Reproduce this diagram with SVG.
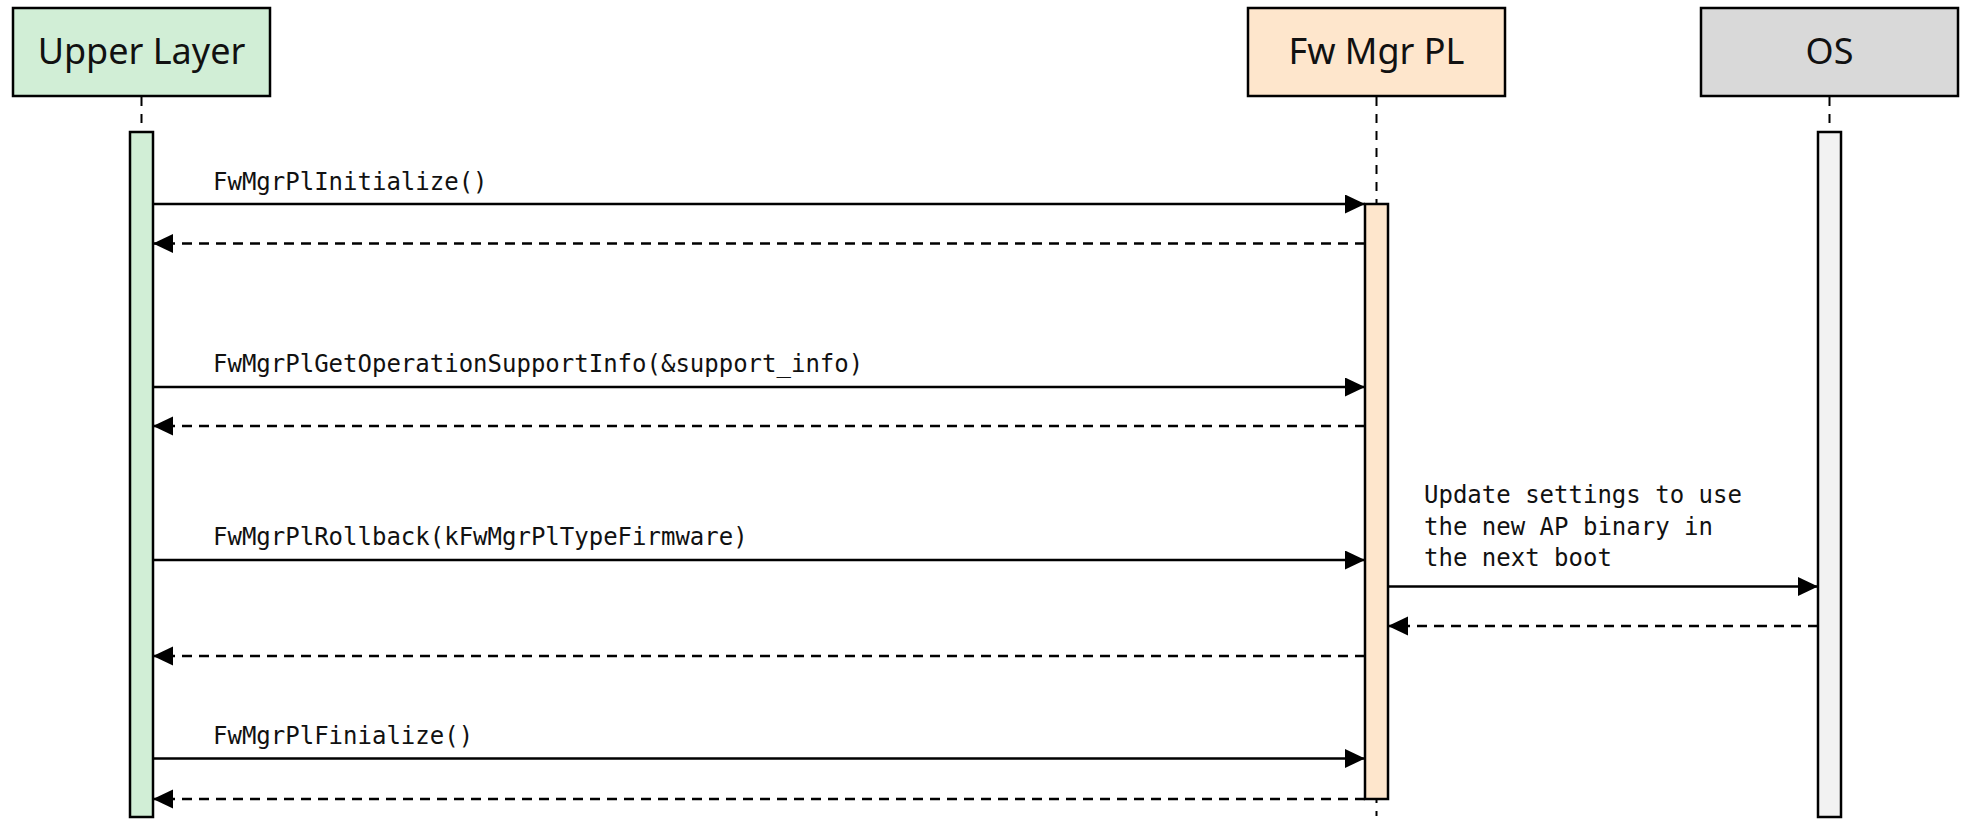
<svg xmlns="http://www.w3.org/2000/svg" width="1982" height="822" viewBox="0 0 1982 822">
  <style>
    .head { stroke: #000; stroke-width: 2.5; }
    .title { font-family: "Noto Sans", "Open Sans", "Liberation Sans", sans-serif; font-size: 36px; fill: #111; text-anchor: middle; }
    .life { stroke: #000; stroke-width: 2; stroke-dasharray: 9 8; fill: none; }
    .bar { stroke: #000; stroke-width: 2.5; }
    .msg { stroke: #000; stroke-width: 2.5; fill: none; marker-end: url(#arrow); }
    .ret { stroke: #000; stroke-width: 2.5; fill: none; stroke-dasharray: 10 7; marker-end: url(#arrow); }
    .lbl { font-family: "DejaVu Sans Mono", "Liberation Mono", monospace; font-size: 24px; fill: #111; }
    .green { fill: #d1eed6; }
    .peach { fill: #fee6cc; }
    .grey { fill: #d9d9d9; }
    .light { fill: #f2f2f2; }
  </style>
  <defs>
    <marker id="arrow" markerUnits="userSpaceOnUse" markerWidth="21" markerHeight="20" refX="20" refY="9.5" orient="auto">
      <path d="M0,0 L20,9.5 L0,19 Z" fill="#000"/>
    </marker>
  </defs>
  <rect width="1982" height="822" fill="#fff"/>

  <g id="lifelines">
    <line class="life" x1="141.5" y1="97" x2="141.5" y2="132"/>
    <line class="life" x1="1376.5" y1="97" x2="1376.5" y2="816"/>
    <line class="life" x1="1829.5" y1="97" x2="1829.5" y2="132"/>
  </g>

  <g id="upper-layer">
    <rect class="head green" x="13" y="8" width="257" height="88"/>
    <text class="title" x="141.5" y="64">Upper Layer</text>
    <rect class="bar green" x="130" y="132" width="23" height="685"/>
  </g>

  <g id="fw-mgr-pl">
    <rect class="head peach" x="1248" y="8" width="257" height="88"/>
    <text class="title" x="1376.5" y="64">Fw Mgr PL</text>
    <rect class="bar peach" x="1365" y="204" width="23" height="595"/>
  </g>

  <g id="os">
    <rect class="head grey" x="1701" y="8" width="257" height="88"/>
    <text class="title" x="1829.5" y="64">OS</text>
    <rect class="bar light" x="1818" y="132" width="23" height="685"/>
  </g>

  <g id="connectors">
    <line class="msg" x1="153" y1="204" x2="1365" y2="204"/>
    <line class="ret" x1="1365" y1="243.5" x2="153" y2="243.5"/>
    <line class="msg" x1="153" y1="387" x2="1365" y2="387"/>
    <line class="ret" x1="1365" y1="426" x2="153" y2="426"/>
    <line class="msg" x1="153" y1="560" x2="1365" y2="560"/>
    <line class="msg" x1="1388" y1="586.5" x2="1818" y2="586.5"/>
    <line class="ret" x1="1818" y1="626" x2="1388" y2="626"/>
    <line class="ret" x1="1365" y1="656" x2="153" y2="656"/>
    <line class="msg" x1="153" y1="758.5" x2="1365" y2="758.5"/>
    <line class="ret" x1="1365" y1="799" x2="153" y2="799"/>
  </g>

  <g id="labels">
    <text class="lbl" x="213" y="190">FwMgrPlInitialize()</text>
    <text class="lbl" x="213" y="372">FwMgrPlGetOperationSupportInfo(&amp;support_info)</text>
    <text class="lbl" x="213" y="545">FwMgrPlRollback(kFwMgrPlTypeFirmware)</text>
    <text class="lbl" x="1424" y="503">Update settings to use</text>
    <text class="lbl" x="1424" y="534.5">the new AP binary in</text>
    <text class="lbl" x="1424" y="566">the next boot</text>
    <text class="lbl" x="213" y="744">FwMgrPlFinialize()</text>
  </g>
</svg>
